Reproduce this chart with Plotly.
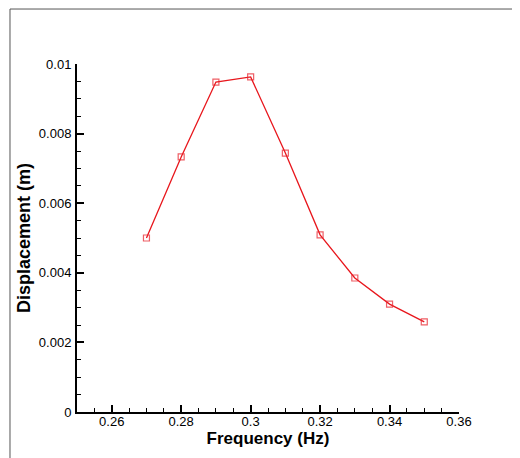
import plotly.graph_objects as go

frequency = [0.27, 0.28, 0.29, 0.30, 0.31, 0.32, 0.33, 0.34, 0.35]
displacement = [0.00500, 0.00733, 0.00948, 0.00963, 0.00744, 0.00509, 0.00385, 0.00310, 0.00259]

x_tickvals = [0.26, 0.28, 0.30, 0.32, 0.34, 0.36]
x_ticktext = ["0.26", "0.28", "0.3", "0.32", "0.34", "0.36"]
y_tickvals = [0, 0.002, 0.004, 0.006, 0.008, 0.01]
y_ticktext = ["0", "0.002", "0.004", "0.006", "0.008", "0.01"]

fig = go.Figure()
fig.add_trace(go.Scatter(
    x=frequency, y=displacement, mode="lines+markers",
    line=dict(color="#e8161c", width=1.3),
    marker=dict(symbol="square-open", size=6, color="rgba(232,40,50,0.75)",
                line=dict(width=1.2)),
    showlegend=False,
))

font_family = "Liberation Sans, Arial, sans-serif"
fig.update_layout(
    width=512, height=450,
    margin=dict(l=69, r=61, t=56, b=46),
    paper_bgcolor="white", plot_bgcolor="white",
    font=dict(family=font_family, size=13, color="black"),
    xaxis=dict(
        range=[0.25, 0.36], showgrid=False, zeroline=False,
        showline=True, linecolor="black", linewidth=2,
        ticks="inside", ticklen=7, tickwidth=1.5, tickcolor="black",
        tickvals=x_tickvals, ticktext=x_ticktext,
        tickfont=dict(size=13), ticklabelstandoff=-4,
        minor=dict(ticks="inside", ticklen=4, tickwidth=1, tickcolor="black",
                   tick0=0.25, dtick=0.005, showgrid=False),
        title=dict(text="<b>Frequency (Hz)</b>", font=dict(size=17), standoff=0),
    ),
    yaxis=dict(
        range=[0, 0.01], showgrid=False, zeroline=False,
        showline=True, linecolor="black", linewidth=2,
        ticks="inside", ticklen=7, tickwidth=1.5, tickcolor="black",
        tickvals=y_tickvals, ticktext=y_ticktext,
        tickfont=dict(size=13), ticklabelstandoff=1,
        minor=dict(ticks="inside", ticklen=4, tickwidth=1, tickcolor="black",
                   tick0=0, dtick=0.0005, showgrid=False),
        title=dict(text="<b>Displacement (m)</b>", font=dict(size=18), standoff=4),
    ),
    shapes=[
        dict(type="line", xref="paper", yref="paper",
             x0=-0.1754, x1=1.2, y0=1.158, y1=1.158,
             line=dict(color="#555555", width=1)),
        dict(type="line", xref="paper", yref="paper",
             x0=-0.1754, x1=-0.1754, y0=1.158, y1=-0.2,
             line=dict(color="#555555", width=1)),
    ],
)

fig.write_html("out.html")
